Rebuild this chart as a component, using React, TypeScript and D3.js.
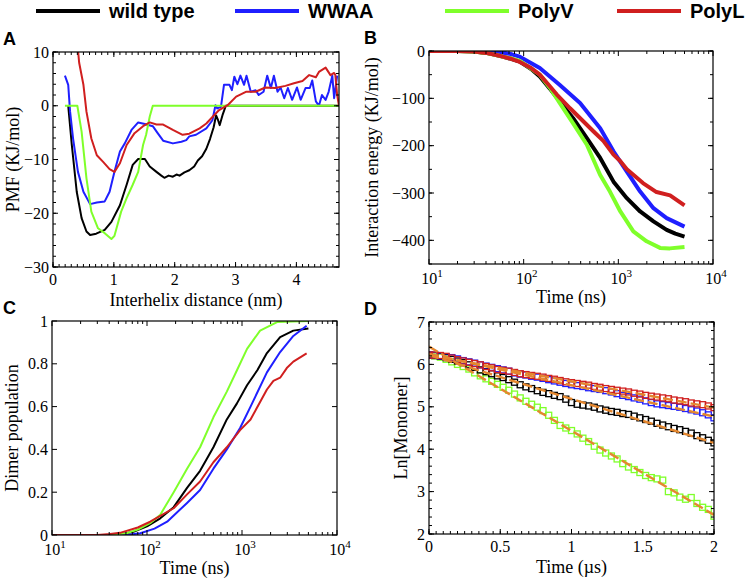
import React from 'react';
import * as d3 from 'd3';

// ---------- legend ----------
const seriesNames = ['wild type', 'WWAA', 'PolyV', 'PolyL'];
const seriesColors = ['#000000', '#1f1fff', '#7fff2a', '#d01f1f'];
const fitColor = '#e4872f';

// ---------- Panel A: PMF vs interhelix distance (nm, kJ/mol) ----------
const pmfWild: [number, number][] = [
  [0.25, 0], [0.31, -7.4], [0.39, -16], [0.47, -20.9], [0.55, -23.4], [0.61, -24.05], [0.71, -23.8],
  [0.85, -23.1], [0.96, -21.6], [1.10, -18.5], [1.21, -14.7], [1.31, -11], [1.40, -9.9], [1.51, -9.9],
  [1.59, -11.3], [1.70, -12.3], [1.78, -13.0], [1.83, -13.4], [1.90, -13.0], [1.97, -13.2], [2.03, -12.8],
  [2.08, -13.0], [2.16, -12.4], [2.24, -12.0], [2.32, -11.3], [2.38, -10.2], [2.45, -9.4], [2.52, -8.0],
  [2.58, -6.2], [2.64, -4.0], [2.68, -1.8], [2.71, -2.6], [2.74, -3.6], [2.79, -1.6], [2.84, 0], [4.7, 0]
];
const pmfWWAA: [number, number][] = [
  [0.196, 5.6], [0.25, 3.9], [0.28, -1], [0.33, -6.1], [0.41, -12.3], [0.50, -16], [0.61, -18.3],
  [0.72, -18], [0.85, -17.8], [0.93, -16], [1.01, -12.3], [1.10, -8.5], [1.18, -7], [1.29, -4.5],
  [1.40, -3.1], [1.51, -3.4], [1.64, -3.8], [1.72, -5.1], [1.81, -6.5], [1.97, -7], [2.11, -6.7],
  [2.19, -6.4], [2.24, -5.7], [2.35, -5.4], [2.52, -4.2], [2.62, -2.7], [2.67, 0.1], [2.70, -0.5],
  [2.76, -0.2], [2.81, 3.9], [2.90, 3.9], [2.94, 2.9], [2.98, 5.4], [3.03, 4.0], [3.08, 5.6],
  [3.14, 3.9], [3.18, 5.6], [3.25, 2.6], [3.33, 2.9], [3.38, 2.0], [3.46, 2.6], [3.52, 5.6],
  [3.58, 3.3], [3.63, 5.6], [3.69, 2.6], [3.74, 3.4], [3.80, 1.4], [3.86, 3.3], [3.93, 1.1],
  [4.01, 3.4], [4.07, 1.1], [4.15, 3.3], [4.22, 3.3], [4.26, 4.7], [4.32, 0.8], [4.37, 0],
  [4.42, 2], [4.48, 1.1], [4.53, 2.6], [4.59, 5.6], [4.62, 1.4], [4.67, 5.6]
];
const pmfPolyV: [number, number][] = [
  [0.196, 0], [0.40, 0], [0.47, -4.8], [0.55, -13.5], [0.63, -19.7], [0.74, -22.8], [0.85, -23.7],
  [0.96, -24.8], [1.01, -24.2], [1.12, -19.7], [1.21, -17.2], [1.31, -14.7], [1.40, -12.3],
  [1.48, -7.3], [1.53, -5.4], [1.59, -2], [1.64, 0], [4.7, 0]
];
const pmfPolyL: [number, number][] = [
  [0.38, 14], [0.43, 8], [0.50, 3.9], [0.55, -1.1], [0.63, -6.1], [0.72, -9.2], [0.82, -10.4],
  [0.93, -11.8], [1.01, -12.3], [1.10, -10.7], [1.21, -7.3], [1.34, -5.1], [1.48, -3.8], [1.59, -3.1],
  [1.70, -3.5], [1.81, -3.5], [1.97, -4.5], [2.13, -5.4], [2.24, -5.2], [2.41, -4.2], [2.52, -3.3],
  [2.62, -2.1], [2.73, -0.8], [2.87, 0.1], [3.01, 1.7], [3.17, 2.6], [3.33, 2.6], [3.49, 3.4],
  [3.65, 3.3], [3.82, 3.7], [3.96, 4.2], [4.10, 4.6], [4.21, 5.7], [4.32, 5.3], [4.37, 6.3],
  [4.48, 7.1], [4.56, 5.7], [4.62, 6.1], [4.64, 5.7], [4.67, 2], [4.7, 0]
];

// ---------- Panel B: interaction energy vs time (ns, kJ/mol) ----------
const energyWild: [number, number][] = [
  [10, 0], [20, 0], [30, -1], [40, -4], [50, -8], [60, -12], [75, -17], [91, -22.5], [120, -38],
  [148, -54], [190, -80], [241, -107], [333, -142], [465, -184], [643, -226], [889, -276],
  [1230, -311], [1700, -339], [2350, -360], [3240, -378], [4000, -386], [5000, -392]
];
const energyWWAA: [number, number][] = [
  [10, 0], [30, 0], [50, -1], [60, -3], [75, -7], [91, -12], [148, -36], [241, -72], [394, -110],
  [643, -163], [889, -212], [1230, -255], [1700, -297], [2350, -332], [3240, -353], [5000, -371]
];
const energyPolyV: [number, number][] = [
  [10, 0], [20, 0], [30, -1], [40, -4], [50, -8], [60, -12], [75, -16], [91, -21], [148, -50],
  [190, -78], [241, -110], [333, -153], [465, -198], [643, -262], [815, -297], [1050, -339],
  [1440, -381], [1990, -402], [2760, -416], [3500, -417], [5000, -414]
];
const energyPolyL: [number, number][] = [
  [10, 0], [20, 0], [30, -1], [40, -4], [50, -8], [60, -12], [75, -17], [91, -23], [120, -36],
  [148, -50], [190, -75], [224, -92], [309, -121], [548, -170], [694, -190], [889, -219],
  [1040, -232], [1230, -250], [1820, -279], [2530, -298], [3520, -305], [5000, -326]
];

// ---------- Panel C: dimer population vs time (ns) ----------
const dimerWild: [number, number][] = [
  [10, 0], [50, 0], [72, 0.015], [100, 0.04], [138, 0.078], [191, 0.13], [264, 0.22], [362, 0.3],
  [500, 0.41], [692, 0.54], [885, 0.615], [1130, 0.7], [1450, 0.77], [1830, 0.85], [2520, 0.925],
  [3470, 0.955], [5000, 0.965]
];
const dimerWWAA: [number, number][] = [
  [10, 0], [60, 0], [85, 0.008], [120, 0.03], [163, 0.062], [264, 0.15], [362, 0.21], [500, 0.31],
  [692, 0.4], [955, 0.5], [1230, 0.6], [1830, 0.76], [2520, 0.855], [3470, 0.93], [4790, 0.978]
];
const dimerPolyV: [number, number][] = [
  [10, 0], [40, 0], [61, 0.008], [80, 0.025], [108, 0.055], [138, 0.095], [191, 0.2], [264, 0.31],
  [362, 0.41], [500, 0.55], [692, 0.67], [885, 0.77], [1130, 0.87], [1550, 0.955], [2340, 0.995],
  [5000, 1.0]
];
const dimerPolyL: [number, number][] = [
  [10, 0], [30, 0], [41, 0.005], [52, 0.01], [80, 0.035], [108, 0.062], [191, 0.125], [264, 0.19],
  [362, 0.25], [500, 0.34], [692, 0.41], [955, 0.49], [1230, 0.54], [1830, 0.68], [2140, 0.72],
  [2520, 0.735], [2960, 0.78], [3470, 0.81], [4790, 0.849]
];

// ---------- Panel D: Ln[Monomer] vs time (µs) ----------
const monoTime = [
  0, 0.04, 0.08, 0.12, 0.16, 0.2, 0.24, 0.28, 0.32, 0.36, 0.4, 0.44, 0.48, 0.52, 0.56, 0.6, 0.64,
  0.68, 0.72, 0.76, 0.8, 0.84, 0.88, 0.92, 0.96, 1.0, 1.04, 1.08, 1.12, 1.16, 1.2, 1.24, 1.28, 1.32,
  1.36, 1.4, 1.44, 1.48, 1.52, 1.56, 1.6, 1.64, 1.68, 1.72, 1.76, 1.8, 1.84, 1.88, 1.92, 1.96, 2.0
];
const monoWild = [
  6.22, 6.21, 6.19, 6.16, 6.12, 6.08, 6.04, 5.99, 5.93, 5.87, 5.83, 5.78, 5.73, 5.69, 5.64, 5.58,
  5.52, 5.47, 5.43, 5.38, 5.34, 5.31, 5.27, 5.24, 5.18, 5.10, 5.06, 5.04, 5.02, 4.99, 4.95, 4.92,
  4.89, 4.87, 4.84, 4.82, 4.78, 4.74, 4.70, 4.66, 4.61, 4.57, 4.53, 4.49, 4.46, 4.42, 4.38, 4.32,
  4.27, 4.21, 4.15
];
const monoWWAA = [
  6.22, 6.22, 6.20, 6.18, 6.16, 6.13, 6.09, 6.06, 6.03, 5.99, 5.96, 5.93, 5.90, 5.87, 5.84, 5.80,
  5.77, 5.75, 5.72, 5.70, 5.67, 5.64, 5.61, 5.58, 5.55, 5.52, 5.50, 5.48, 5.45, 5.43, 5.41, 5.38,
  5.35, 5.31, 5.27, 5.24, 5.21, 5.18, 5.14, 5.10, 5.07, 5.05, 5.03, 5.01, 4.99, 4.96, 4.93, 4.90,
  4.86, 4.81, 4.74
];
const monoPolyV = [
  6.22, 6.20, 6.17, 6.12, 6.06, 6.00, 5.95, 5.89, 5.80, 5.73, 5.66, 5.60, 5.53, 5.46, 5.39, 5.30,
  5.21, 5.13, 5.06, 4.99, 4.91, 4.80, 4.68, 4.56, 4.50, 4.44, 4.36, 4.26, 4.18, 4.07, 3.98, 3.91,
  3.84, 3.77, 3.66, 3.58, 3.52, 3.45, 3.38, 3.33, 3.30, 3.27, 3.00, 2.97, 2.87, 2.82, 2.86, 2.72,
  2.63, 2.58, 2.42
];
const monoPolyL = [
  6.22, 6.22, 6.21, 6.19, 6.15, 6.11, 6.08, 6.05, 6.02, 5.99, 5.95, 5.92, 5.88, 5.86, 5.84, 5.81,
  5.78, 5.76, 5.74, 5.72, 5.70, 5.67, 5.65, 5.62, 5.59, 5.57, 5.55, 5.53, 5.51, 5.48, 5.46, 5.43,
  5.41, 5.39, 5.37, 5.35, 5.32, 5.30, 5.27, 5.25, 5.23, 5.21, 5.19, 5.16, 5.14, 5.12, 5.09, 5.07,
  5.05, 5.02, 4.98
];
const fitTime = [0, 2];
const fitWild = [6.22, 4.15];
const fitWWAA = [6.25, 4.77];
const fitPolyV = [6.42, 2.45];
const fitPolyL = [6.22, 4.98];

// ---------- tick settings ----------
const aXTicks = [0, 1, 2, 3, 4];
const aYTicks = [10, 0, -10, -20, -30];
const bYTicks = [0, -100, -200, -300, -400];
const cYTicks = [0, 0.2, 0.4, 0.6, 0.8, 1];
const dXTicks = [0, 0.5, 1, 1.5, 2];
const dYTicks = [2, 3, 4, 5, 6, 7];
const logTicks = [10, 100, 1000, 10000];

const SERIF = '"Liberation Serif", "Times New Roman", serif';
const SANS = '"Liberation Sans", Arial, sans-serif';

const fmt = (v: number) => (v < 0 ? '\u2212' + String(Math.abs(v)) : String(v));

function Frame(props: {
  id: string;
  x: any; y: any;
  xMajor: number[]; xMinor: number[];
  yMajor: number[]; yMinor: number[];
  xLabels: number[]; yLabels: number[];
  log?: boolean;
  xTitle: string; yTitle: string; yTitleOffset: number;
  letter: string; letterX: number;
  children?: any;
}) {
  const { x, y } = props;
  const [x0, x1] = x.range();
  const [yb, yt] = y.range();
  const maj = 5, mn = 3;
  const ticks: any[] = [];
  const addX = (v: number, len: number, k: string) => {
    const px = x(v);
    ticks.push(<line key={'xb' + k} x1={px} x2={px} y1={yb} y2={yb - len} />);
    ticks.push(<line key={'xt' + k} x1={px} x2={px} y1={yt} y2={yt + len} />);
  };
  const addY = (v: number, len: number, k: string) => {
    const py = y(v);
    ticks.push(<line key={'yl' + k} x1={x0} x2={x0 + len} y1={py} y2={py} />);
    ticks.push(<line key={'yr' + k} x1={x1} x2={x1 - len} y1={py} y2={py} />);
  };
  props.xMinor.forEach((v, i) => addX(v, mn, 'm' + i));
  props.xMajor.forEach((v, i) => addX(v, maj, 'M' + i));
  props.yMinor.forEach((v, i) => addY(v, mn, 'm' + i));
  props.yMajor.forEach((v, i) => addY(v, maj, 'M' + i));
  const cx = (x0 + x1) / 2, cy = (yb + yt) / 2;
  return (
    <g>
      <defs>
        <clipPath id={props.id}>
          <rect x={x0} y={yt} width={x1 - x0} height={yb - yt} />
        </clipPath>
      </defs>
      <g clipPath={`url(#${props.id})`}>{props.children}</g>
      <g stroke="#000" strokeWidth={1}>{ticks}</g>
      <rect x={x0} y={yt} width={x1 - x0} height={yb - yt} fill="none" stroke="#000" strokeWidth={1.2} />
      <g fontFamily={SERIF} fontSize={16} fill="#000">
        {props.xLabels.map((v, i) =>
          props.log ? (
            <text key={'xl' + i} x={x(v) + 3} y={yb + 20} textAnchor="middle">
              10<tspan dy={-7} fontSize={11}>{Math.round(Math.log10(v))}</tspan>
            </text>
          ) : (
            <text key={'xl' + i} x={x(v)} y={yb + 18} textAnchor="middle">{fmt(v)}</text>
          )
        )}
        {props.yLabels.map((v, i) => (
          <text key={'yl' + i} x={x0 - 4} y={y(v)} dy="0.35em" textAnchor="end">{fmt(v)}</text>
        ))}
      </g>
      <text x={cx} y={yb + 39} textAnchor="middle" fontFamily={SERIF} fontSize={18}>{props.xTitle}</text>
      <text transform={`translate(${x0 - props.yTitleOffset},${cy}) rotate(-90)`} textAnchor="middle"
        fontFamily={SERIF} fontSize={18}>{props.yTitle}</text>
      <text x={props.letterX} y={yt - 7} fontFamily={SANS} fontWeight="bold" fontSize={18}>{props.letter}</text>
    </g>
  );
}

function logMinor(): number[] {
  const out: number[] = [];
  [10, 100, 1000].forEach((d) => { for (let k = 2; k <= 9; k++) out.push(d * k); });
  return out;
}

export default function App() {
  // Panel A
  const ax = d3.scaleLinear().domain([0, 4.7]).range([53, 339]);
  const ay = d3.scaleLinear().domain([-30, 10]).range([267, 52]);
  const aLine = d3.line<[number, number]>().x((d) => ax(d[0])).y((d) => ay(d[1]));
  const aXMinor = d3.range(0, 47).map((i) => i / 10);
  const aYMinor = d3.range(-30, 11, 2);

  // Panel B
  const bx = d3.scaleLog().domain([10, 10000]).range([429, 713]);
  const by = d3.scaleLinear().domain([-450, 0]).range([264, 51]);
  const bLine = d3.line<[number, number]>().x((d) => bx(d[0])).y((d) => by(d[1]));
  const bYMinor = d3.range(-450, 1, 50);

  // Panel C
  const cx = d3.scaleLog().domain([10, 10000]).range([52, 337]);
  const cy = d3.scaleLinear().domain([0, 1]).range([535, 321]);
  const cLine = d3.line<[number, number]>().x((d) => cx(d[0])).y((d) => cy(d[1]));

  // Panel D
  const dx = d3.scaleLinear().domain([0, 2]).range([429, 714]);
  const dy = d3.scaleLinear().domain([2, 7]).range([534, 322]);
  const dXMinor = d3.range(0, 41).map((i) => i * 0.05);
  const dYMinor = d3.range(0, 26).map((i) => 2 + i * 0.2);
  const dLine = d3.line<number>().x((_, i) => dx(fitTime[i])).y((d) => dy(d));

  const pmf = [pmfWild, pmfWWAA, pmfPolyV, pmfPolyL];
  const energy = [energyWild, energyWWAA, energyPolyV, energyPolyL];
  const dimer = [dimerWild, dimerWWAA, dimerPolyV, dimerPolyL];
  const mono = [monoWild, monoWWAA, monoPolyV, monoPolyL];
  const fits = [fitWild, fitWWAA, fitPolyV, fitPolyL];
  const monoOrder = [2, 0, 1, 3];

  const legendX = [36, 235, 445, 617];
  const sq = 6;

  return (
    <svg width={747} height={581} style={{ position: 'absolute', left: 0, top: 0, background: '#fff' }}>
      <rect width={747} height={581} fill="#fff" />
      {/* legend */}
      <g>
        {seriesNames.map((n, i) => (
          <g key={n}>
            <line x1={legendX[i]} x2={legendX[i] + 64} y1={11} y2={11} stroke={seriesColors[i]} strokeWidth={4} />
            <text x={legendX[i] + 73} y={18} fontFamily={SANS} fontWeight="bold" fontSize={20}>{n}</text>
          </g>
        ))}
      </g>

      <Frame id="clipA" x={ax} y={ay} xMajor={aXTicks} xMinor={aXMinor} yMajor={aYTicks} yMinor={aYMinor}
        xLabels={aXTicks} yLabels={aYTicks} xTitle="Interhelix distance (nm)" yTitle="PMF (KJ/mol)"
        yTitleOffset={34} letter="A" letterX={3}>
        {pmf.map((s, i) => (
          <path key={i} d={aLine(s) || ''} fill="none" stroke={seriesColors[i]} strokeWidth={2} strokeLinejoin="round" />
        ))}
      </Frame>

      <Frame id="clipB" x={bx} y={by} xMajor={logTicks} xMinor={logMinor()} yMajor={bYTicks} yMinor={bYMinor}
        xLabels={logTicks} yLabels={bYTicks} log xTitle="Time (ns)" yTitle="Interaction energy (KJ/mol)"
        yTitleOffset={51} letter="B" letterX={364}>
        {energy.map((s, i) => (
          <path key={i} d={bLine(s) || ''} fill="none" stroke={seriesColors[i]} strokeWidth={4} strokeLinejoin="round" />
        ))}
      </Frame>

      <Frame id="clipC" x={cx} y={cy} xMajor={logTicks} xMinor={logMinor()} yMajor={cYTicks} yMinor={[]}
        xLabels={logTicks} yLabels={cYTicks} log xTitle="Time (ns)" yTitle="Dimer population"
        yTitleOffset={34} letter="C" letterX={3}>
        {dimer.map((s, i) => (
          <path key={i} d={cLine(s) || ''} fill="none" stroke={seriesColors[i]} strokeWidth={2} strokeLinejoin="round" />
        ))}
      </Frame>

      <Frame id="clipD" x={dx} y={dy} xMajor={dXTicks} xMinor={dXMinor} yMajor={dYTicks} yMinor={dYMinor}
        xLabels={dXTicks} yLabels={dYTicks} xTitle={'Time (\u00b5s)'} yTitle="Ln[Monomer]"
        yTitleOffset={22} letter="D" letterX={364}>
        {monoOrder.map((si) => (
          <g key={si} fill="none" stroke={seriesColors[si]} strokeWidth={1.3}>
            {mono[si].map((v, j) => (
              <rect key={j} x={dx(monoTime[j]) - sq / 2} y={dy(v) - sq / 2} width={sq} height={sq} />
            ))}
          </g>
        ))}
        {fits.map((f, i) => (
          <path key={i} d={dLine(f) || ''} fill="none" stroke={fitColor} strokeWidth={2.4} strokeDasharray="10,4" />
        ))}
      </Frame>
    </svg>
  );
}
